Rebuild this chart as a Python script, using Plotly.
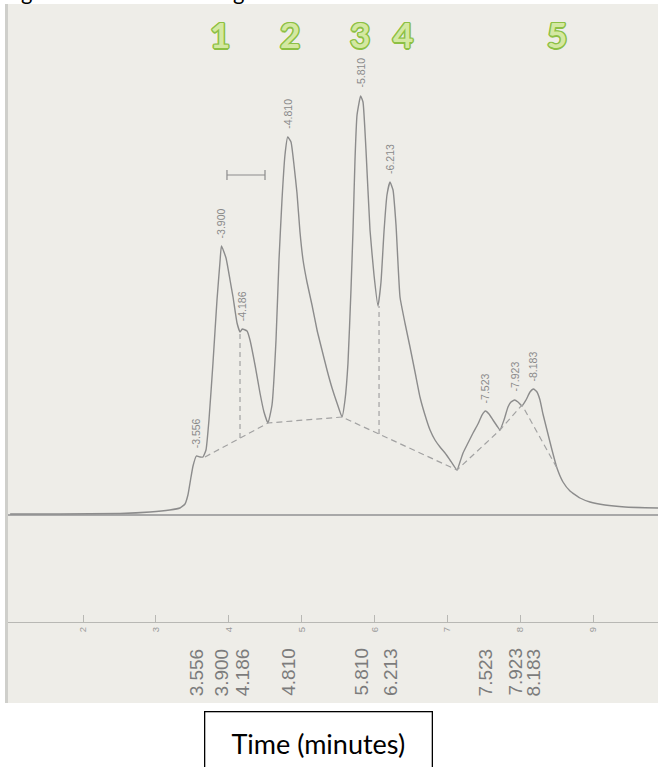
import plotly.graph_objects as go

# ---- data ----
time_min = [1.00, 1.68, 2.51, 2.92, 3.19, 3.33, 3.40, 3.44, 3.48, 3.51,
            3.556, 3.606, 3.647, 3.688, 3.729, 3.784, 3.839, 3.880, 3.900, 3.963,
            4.018, 4.059, 4.114, 4.155, 4.186, 4.251, 4.292, 4.361, 4.429, 4.484,
            4.539, 4.594, 4.649, 4.690, 4.731, 4.772, 4.810, 4.855, 4.896, 4.937,
            4.978, 5.020, 5.074, 5.143, 5.212, 5.280, 5.349, 5.418, 5.486, 5.555,
            5.596, 5.637, 5.678, 5.706, 5.733, 5.761, 5.810, 5.843, 5.884, 5.939,
            5.994, 6.049, 6.090, 6.131, 6.172, 6.213, 6.255, 6.296, 6.351, 6.419,
            6.488, 6.557, 6.625, 6.694, 6.763, 6.831, 6.900, 6.969, 7.037, 7.133,
            7.174, 7.216, 7.284, 7.353, 7.421, 7.476, 7.523, 7.572, 7.627, 7.682,
            7.723, 7.778, 7.833, 7.874, 7.923, 7.970, 8.025, 8.080, 8.135, 8.183,
            8.231, 8.272, 8.313, 8.368, 8.437, 8.505, 8.588, 8.684, 8.821, 8.958,
            9.164, 9.439, 9.892]
signal = [1, 1, 1.5, 3, 5, 7, 11, 20, 37, 49,
          59, 58, 58, 65, 95, 152, 215, 253, 269, 257,
          235, 218, 192, 183, 186, 184, 175, 150, 122, 103,
          92, 110, 175, 255, 315, 360, 378, 373, 350, 322,
          283, 255, 233, 210, 185, 165, 145, 127, 112, 98,
          115, 152, 225, 285, 355, 400, 419, 413, 365, 285,
          240, 209, 233, 283, 320, 333, 325, 290, 218, 192,
          168, 143, 118, 100, 85, 75, 68, 62, 55, 45,
          53, 62, 72, 82, 91, 100, 104, 101, 95, 89,
          85, 95, 108, 113, 115, 113, 109, 115, 123, 126,
          123, 115, 101, 85, 65, 47, 33, 24, 17, 13,
          10, 8, 7]

peak_times = [3.556, 3.900, 4.186, 4.810, 5.810, 6.213, 7.523, 7.923, 8.183]
peak_heights = [59, 269, 186, 378, 419, 333, 104, 115, 126]
peak_labels = ["-3.556", "-3.900", "-4.186", "-4.810", "-5.810", "-6.213",
               "-7.523", "-7.923", "-8.183"]
rt_labels = ["3.556", "3.900", "4.186", "4.810", "5.810", "6.213",
             "7.523", "7.923", "8.183"]

baseline_t = [3.674, 4.539, 5.555, 7.133, 7.723, 8.025, 8.505]
baseline_s = [58, 92, 98, 45, 85, 110, 47]

drop_t = [4.155, 6.063]
drop_low = [77, 81]
drop_high = [183, 209]

scale_t = [3.976, 4.498]
scale_s = [340, 340]

group_labels = ["1", "2", "3", "4", "5"]
group_t = [3.88, 4.84, 5.80, 6.39, 8.51]

tick_vals = [2, 3, 4, 5, 6, 7, 8, 9]
tick_text = ["2", "3", "4", "5", "6", "7", "8", "9"]

axis_title = "Time (minutes)"

# ---- figure ----
W, H = 658, 767
trace_col = "#8c8c8c"
dash_col = "#a2a2a2"

fig = go.Figure()

fig.add_trace(go.Scatter(x=time_min, y=signal, mode="lines",
                         line=dict(color=trace_col, width=1.4, shape="spline", smoothing=0.4),
                         hoverinfo="skip"))
fig.add_trace(go.Scatter(x=baseline_t, y=baseline_s, mode="lines",
                         line=dict(color=dash_col, width=1.2, dash="6px,4px"),
                         hoverinfo="skip"))
dx, dy = [], []
for t, lo, hi in zip(drop_t, drop_low, drop_high):
    dx += [t, t, None]
    dy += [lo, hi, None]
fig.add_trace(go.Scatter(x=dx, y=dy, mode="lines",
                         line=dict(color=dash_col, width=1.2, dash="5px,4px"),
                         hoverinfo="skip"))
fig.add_trace(go.Scatter(x=scale_t, y=scale_s, mode="lines+markers",
                         line=dict(color=trace_col, width=1.2),
                         marker=dict(symbol="line-ns-open", size=7,
                                     line=dict(color=trace_col, width=1.2)),
                         hoverinfo="skip"))

annotations = []
for t, h, lab in zip(peak_times, peak_heights, peak_labels):
    annotations.append(dict(x=t, y=h, xref="x", yref="y", text=lab, showarrow=False,
                            textangle=-90, xanchor="center", yanchor="middle", yshift=23,
                            font=dict(family="Liberation Sans", size=10.5, color="#8a8a8a")))
for t, lab in zip(peak_times, rt_labels):
    annotations.append(dict(x=t, y=-157, xref="x", yref="y", text=lab, showarrow=False,
                            textangle=-90, xanchor="center", yanchor="middle",
                            font=dict(family="Liberation Sans", size=19, color="#7c7c7c")))
green_out = "#8dc044"
shadow = ", ".join(f"{a}px {b}px 0 {green_out}" for a, b in
                   [(1.5, 0), (-1.5, 0), (0, 1.5), (0, -1.5), (1, 1), (-1, -1), (1, -1), (-1, 1)])
for t, lab in zip(group_t, group_labels):
    annotations.append(dict(x=t, y=481, xref="x", yref="y", text=lab, showarrow=False,
                            xanchor="center", yanchor="middle",
                            font=dict(family="Lato", size=35, color="#d4e8a2",
                                      weight=700, shadow=shadow)))
# cut-off caption text at the very top
for px in [26, 238]:
    annotations.append(dict(x=px / W, y=1, xref="paper", yref="paper", text="g",
                            showarrow=False, xanchor="center", yanchor="bottom", yshift=-7,
                            font=dict(family="Lato", size=22, color="black")))
annotations.append(dict(x=318.5 / W, y=(H - 743) / H, xref="paper", yref="paper",
                        text=axis_title, showarrow=False, xanchor="center", yanchor="middle",
                        width=226, height=62, borderpad=0, bordercolor="black",
                        borderwidth=1.3, bgcolor="white", valign="middle",
                        font=dict(family="Lato", size=27, color="black")))

fig.update_layout(
    width=W, height=H, autosize=False,
    margin=dict(l=0, r=0, t=0, b=0),
    paper_bgcolor="white", plot_bgcolor="#eeede8",
    showlegend=False,
    xaxis=dict(domain=[8 / W, 1], range=[0.97063, 9.89185], anchor="free",
               position=(H - 622) / H, showgrid=False, zeroline=False,
               showline=True, linecolor="#b8b8b4", linewidth=1.2,
               ticks="inside", ticklen=7, tickcolor="#b8b8b4", tickwidth=1,
               tickvals=tick_vals, ticktext=tick_text, tickangle=-90,
               tickfont=dict(family="Liberation Sans", size=9.5, color="#9a9a9a"),
               fixedrange=True),
    yaxis=dict(domain=[64 / H, 763 / H], range=[-188, 511], showgrid=False,
               showticklabels=False, ticks="", zeroline=True, zerolinecolor="#a8a8a8",
               zerolinewidth=1.5, showline=True, linecolor="#cfcfcb", linewidth=3,
               fixedrange=True),
    annotations=annotations,
)

fig.write_html("out.html", config={"displayModeBar": False},
               post_script="document.body.style.margin='0';document.body.style.overflow='hidden';")
